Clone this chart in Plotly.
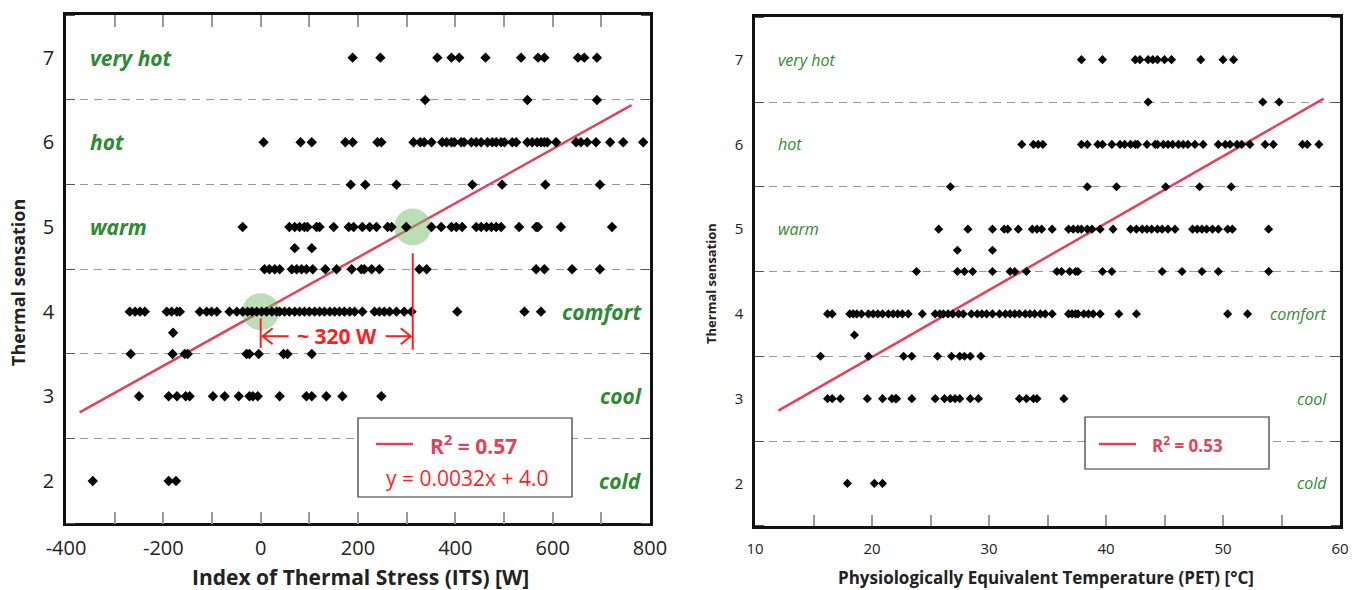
import plotly.graph_objects as go

W, H = 1363, 590
FONT = "Open Sans"
GREEN = "#2f8a34"
FIT_RED = "#e2435c"
LABEL_RED = "#ff1f1f"

# ---------------- Thermal sensation levels (vote scale) ----------------
sensation_labels_left = ["very hot", "hot", "warm"]
sensation_labels_right = ["comfort", "cool", "cold"]
levels_left = [7, 6, 5]
levels_right = [4, 3, 2]

# ---------------- axis tick labels ----------------
its_ticks = [-400, -200, 0, 200, 400, 600, 800]
its_ticktext = ["-400", "-200", "0", "200", "400", "600", "800"]
pet_ticks = [10, 20, 30, 40, 50, 60]
sensation_ticks = [2, 3, 4, 5, 6, 7]

# ---------------- ITS [W] observations, grouped by sensation vote ----------------
its_7 = [189, 246, 363, 392, 408, 462, 535, 570, 583, 652, 665, 691]
its_6_5 = [338, 548, 691]
its_6 = [6, 82, 105, 174, 189, 240, 248, 314, 328, 336, 351, 373, 382, 392, 398, 412, 418,
         433, 443, 453, 466, 476, 484, 494, 501, 517, 525, 548, 558, 568, 576, 583, 589, 607,
         648, 658, 671, 689, 718, 745, 786]
its_5_5 = [185, 215, 279, 435, 496, 585, 697]
its_5 = [-37, 59, 70, 80, 90, 96, 115, 121, 150, 181, 191, 209, 224, 238, 261, 269, 299, 351,
         371, 392, 402, 414, 443, 453, 464, 474, 484, 494, 531, 566, 570, 617, 722]
its_4_75 = [70, 105]
its_4_5 = [8, 18, 29, 39, 64, 74, 84, 94, 107, 133, 156, 187, 207, 213, 228, 244, 326, 341,
           566, 583, 640, 697]
its_4 = [-269, -258, -248, -238, -193, -183, -172, -166, -125, -111, -101, -90, -64, -49, -37,
         -27, -18, -8, 2, 12, 23, 33, 39, 49, 59, 70, 80, 90, 100, 111, 121, 131, 142, 152, 162,
         172, 183, 193, 209, 234, 244, 254, 265, 279, 295, 310, 404, 542, 576]
its_3_75 = [-180]
its_3_5 = [-267, -181, -156, -150, -29, -23, -4, 47, 55, 105]
its_3 = [-250, -189, -172, -154, -146, -98, -74, -45, -23, -16, -6, 39, 94, 105, 135, 168, 248]
its_2 = [-345, -189, -174]

# ---------------- PET [°C] observations, grouped by sensation vote ----------------
pet_7 = [37.9, 39.7, 42.5, 42.9, 43.6, 44.0, 44.4, 45.0, 45.6, 48.1, 50.0, 50.9]
pet_6_5 = [43.6, 53.4, 54.8]
pet_6 = [32.8, 33.8, 34.2, 34.6, 37.9, 38.4, 39.3, 39.7, 40.5, 41.2, 41.6, 42.1, 42.5, 42.7,
         43.5, 44.2, 44.4, 44.9, 45.3, 45.7, 46.2, 46.6, 47.0, 47.6, 48.3, 49.6, 50.2, 50.6,
         51.2, 51.6, 52.3, 53.6, 54.3, 56.8, 57.2, 58.2]
pet_5_5 = [26.7, 38.4, 40.9, 45.1, 48.0, 50.7]
pet_5 = [25.7, 28.2, 30.3, 31.3, 31.6, 32.5, 33.7, 34.1, 34.5, 35.4, 36.8, 37.2, 37.6, 37.9,
         38.4, 38.8, 39.5, 40.6, 42.1, 42.6, 43.1, 43.5, 43.9, 44.4, 44.8, 45.3, 45.9, 47.4,
         47.8, 48.2, 48.6, 49.1, 49.6, 50.4, 50.8, 53.9]
pet_4_75 = [27.3, 30.3]
pet_4_5 = [23.8, 27.3, 27.9, 28.6, 30.3, 31.8, 32.2, 33.2, 35.8, 36.2, 36.9, 37.4, 37.6, 39.7,
           40.5, 44.8, 46.5, 48.2, 49.6, 53.9]
pet_4 = [16.2, 16.6, 18.1, 18.4, 18.7, 19.1, 19.7, 20.1, 20.5, 20.9, 21.4, 21.8, 22.2, 22.6,
         23.1, 24.3, 25.4, 25.8, 26.1, 26.5, 26.9, 27.4, 27.8, 28.5, 29.0, 29.4, 29.8, 30.3,
         30.9, 31.4, 31.8, 32.2, 32.6, 33.1, 33.5, 33.9, 34.4, 34.8, 35.4, 36.8, 37.1, 37.4,
         37.6, 38.1, 38.5, 38.9, 39.5, 41.1, 42.6, 50.4, 52.1]
pet_3_75 = [18.5]
pet_3_5 = [15.6, 19.7, 22.7, 23.4, 25.6, 26.8, 27.5, 27.9, 28.4, 29.3]
pet_3 = [16.2, 16.6, 17.3, 19.6, 20.9, 21.7, 22.0, 22.1, 23.4, 25.4, 26.2, 26.7, 27.1, 27.5,
         28.4, 29.1, 32.6, 33.2, 33.8, 34.1, 36.4]
pet_2 = [17.9, 20.2, 20.9]

# ---------------- Linear fits ----------------
its_slope, its_intercept, its_r2 = 0.0032, 4.0, 0.57
its_fit_x = [-372, 762]
pet_slope, pet_intercept, pet_r2 = 0.079, 1.91, 0.53
pet_fit_x = [12.0, 58.6]

# sensation levels matched to the grouped lists above
level_values = [7, 6.5, 6, 5.5, 5, 4.75, 4.5, 4, 3.75, 3.5, 3, 2]
its_groups = [its_7, its_6_5, its_6, its_5_5, its_5, its_4_75, its_4_5, its_4, its_3_75,
              its_3_5, its_3, its_2]
pet_groups = [pet_7, pet_6_5, pet_6, pet_5_5, pet_5, pet_4_75, pet_4_5, pet_4, pet_3_75,
              pet_3_5, pet_3, pet_2]


def flatten(groups):
    xs, ys = [], []
    for lv, g in zip(level_values, groups):
        xs += g
        ys += [lv] * len(g)
    return xs, ys


its_x, its_y = flatten(its_groups)
pet_x, pet_y = flatten(pet_groups)

fig = go.Figure()

# --- left panel: ITS ---
fig.add_trace(go.Scatter(
    x=its_fit_x, y=[its_slope * v + its_intercept for v in its_fit_x],
    mode="lines", line=dict(color=FIT_RED, width=2.5), xaxis="x", yaxis="y",
    hoverinfo="skip"))
# highlighted points of the fit at sensation 4 and 5
hl_y = [4, 5]
hl_x = [(v - its_intercept) / its_slope for v in hl_y]
fig.add_trace(go.Scatter(
    x=hl_x, y=hl_y, mode="markers",
    marker=dict(size=37, color="rgba(120,190,110,0.5)", line=dict(width=0)),
    xaxis="x", yaxis="y", hoverinfo="skip"))
fig.add_trace(go.Scatter(
    x=its_x, y=its_y, mode="markers",
    marker=dict(symbol="diamond", size=8, color="black", line=dict(width=0)),
    xaxis="x", yaxis="y"))

# --- right panel: PET ---
fig.add_trace(go.Scatter(
    x=pet_fit_x, y=[pet_slope * v + pet_intercept for v in pet_fit_x],
    mode="lines", line=dict(color=FIT_RED, width=2.5), xaxis="x2", yaxis="y2",
    hoverinfo="skip"))
fig.add_trace(go.Scatter(
    x=pet_x, y=pet_y, mode="markers",
    marker=dict(symbol="diamond", size=7, color="black", line=dict(width=0)),
    xaxis="x2", yaxis="y2"))


def px_x(p):
    return p / W


def px_y(p):
    return 1 - p / H


grid = dict(showgrid=True, gridcolor="#9a9a9a", gridwidth=1.1, griddash="8px,6px")

yaxis_common = dict(
    range=[1.5, 7.5], tickmode="array", tickvals=sensation_ticks, ticks="",
    showgrid=False, zeroline=False, showline=True, linecolor="#111", linewidth=2.5,
    mirror="ticks", automargin=False,
    minor=dict(tickmode="linear", tick0=2.5, dtick=1, ticks="inside", ticklen=9,
               tickcolor="#555", tickwidth=1.2, **grid),
)

fig.update_layout(
    width=W, height=H, margin=dict(l=0, r=0, t=0, b=0),
    paper_bgcolor="white", plot_bgcolor="white", showlegend=False,
    font=dict(family=FONT, color="#222"),
    xaxis=dict(
        domain=[px_x(66), px_x(650)], range=[-400, 800], tickmode="array",
        tickvals=its_ticks, ticktext=its_ticktext, ticks="inside", ticklen=12,
        tickcolor="#9a9a9a", tickwidth=1.5,
        minor=dict(tickmode="linear", tick0=-300, dtick=200, ticks="inside", ticklen=12,
                   tickcolor="#9a9a9a", tickwidth=1.5),
        showgrid=False, zeroline=False, showline=True, linecolor="#111", linewidth=2.5,
        mirror="ticks", tickfont=dict(size=20), ticklabelstandoff=5, anchor="y",
        automargin=False),
    yaxis=dict(domain=[px_y(523.3), px_y(15.3)], tickfont=dict(size=20),
               ticklabelstandoff=5, anchor="x", **yaxis_common),
    xaxis2=dict(
        domain=[px_x(755), px_x(1340)], range=[10, 60], tickmode="array",
        tickvals=pet_ticks, ticks="inside", ticklen=11, tickcolor="#9a9a9a", tickwidth=1.5,
        minor=dict(tickmode="linear", tick0=15, dtick=10, ticks="inside", ticklen=11,
                   tickcolor="#9a9a9a", tickwidth=1.5),
        showgrid=False, zeroline=False, showline=True, linecolor="#111", linewidth=2.5,
        mirror=True, tickfont=dict(size=15), ticklabelstandoff=7, anchor="y2",
        automargin=False),
    yaxis2=dict(domain=[px_y(525.75), px_y(17.25)], tickfont=dict(size=15),
                ticklabelstandoff=6, anchor="x2", **yaxis_common),
)

ann = []
# axis titles
ann.append(dict(text="<b>Index of Thermal Stress (ITS) [W]</b>", x=px_x(360), y=px_y(577),
                xref="paper", yref="paper", showarrow=False, font=dict(size=21, color="#222"),
                xanchor="center", yanchor="middle"))
ann.append(dict(text="<b>Thermal sensation</b>", x=px_x(18), y=px_y(283), xref="paper",
                yref="paper", showarrow=False, textangle=-90, font=dict(size=18, color="#222"),
                xanchor="center", yanchor="middle"))
ann.append(dict(text="<b>Physiologically Equivalent Temperature (PET) [°C]</b>",
                x=px_x(1046), y=px_y(577), xref="paper", yref="paper", showarrow=False,
                font=dict(size=17, color="#222"), xanchor="center", yanchor="middle"))
ann.append(dict(text="<b>Thermal sensation</b>", x=px_x(711), y=px_y(284), xref="paper",
                yref="paper", showarrow=False, textangle=-90, font=dict(size=13, color="#222"),
                xanchor="center", yanchor="middle"))

# sensation category names
for name, lv in zip(sensation_labels_left, levels_left):
    ann.append(dict(text=f"<b><i>{name}</i></b>", x=px_x(88), y=lv, xref="paper", yref="y",
                    showarrow=False, xanchor="left", yanchor="middle",
                    font=dict(size=21, color=GREEN)))
    ann.append(dict(text=f"<i>{name}</i>", x=px_x(776), y=lv, xref="paper", yref="y2",
                    showarrow=False, xanchor="left", yanchor="middle",
                    font=dict(size=16, color=GREEN)))
for name, lv in zip(sensation_labels_right, levels_right):
    ann.append(dict(text=f"<b><i>{name}</i></b>", x=px_x(644), y=lv, xref="paper", yref="y",
                    showarrow=False, xanchor="right", yanchor="middle",
                    font=dict(size=21, color=GREEN)))
    ann.append(dict(text=f"<i>{name}</i>", x=px_x(1329), y=lv, xref="paper", yref="y2",
                    showarrow=False, xanchor="right", yanchor="middle",
                    font=dict(size=16, color=GREEN)))

# ITS span between sensation 4 and 5 on the fit
span_y = 3.71
ann.append(dict(text="<b>~ 320 W</b>", x=(hl_x[0] + hl_x[1]) / 2, y=span_y, xref="x",
                yref="y", showarrow=False, font=dict(size=21, color=LABEL_RED),
                xanchor="center", yanchor="middle"))

shapes = [
    dict(type="line", xref="x", yref="y", x0=hl_x[0], x1=hl_x[0], y0=3.92, y1=3.57,
         line=dict(color=LABEL_RED, width=2)),
    dict(type="line", xref="x", yref="y", x0=hl_x[1], x1=hl_x[1], y0=4.69, y1=3.55,
         line=dict(color=LABEL_RED, width=2)),
]

# open chevron arrows pointing at the two vertical markers
x_per_px = 1200 / 584.0
y_per_px = 6.0 / 508.0
arm_dx, arm_dy = 10 * x_per_px, 8 * y_per_px
tip_l = hl_x[0] + 2 * x_per_px
tail_l = hl_x[0] + 28 * x_per_px
tip_r = hl_x[1] - 2 * x_per_px
tail_r = hl_x[1] - 27 * x_per_px
for tip, tail, sgn in [(tip_l, tail_l, 1), (tip_r, tail_r, -1)]:
    shapes.append(dict(type="line", xref="x", yref="y", x0=tail, x1=tip, y0=span_y,
                       y1=span_y, line=dict(color=LABEL_RED, width=2)))
    shapes.append(dict(type="path", xref="x", yref="y",
                       path=(f"M {tip + sgn * arm_dx},{span_y + arm_dy} L {tip},{span_y} "
                             f"L {tip + sgn * arm_dx},{span_y - arm_dy}"),
                       line=dict(color=LABEL_RED, width=2)))

# fit key boxes
shapes.append(dict(type="rect", xref="paper", yref="paper", x0=px_x(358), x1=px_x(572),
                   y0=px_y(497), y1=px_y(418), line=dict(color="#333", width=1.2),
                   fillcolor="white", layer="above"))
shapes.append(dict(type="line", xref="paper", yref="paper", x0=px_x(376), x1=px_x(413),
                   y0=px_y(444), y1=px_y(444), line=dict(color=FIT_RED, width=2.5)))
ann.append(dict(text=f"<b>R<sup>2</sup> = {its_r2:.2f}</b>", x=px_x(428), y=px_y(444),
                xref="paper", yref="paper", showarrow=False, xanchor="left",
                yanchor="middle", font=dict(size=21, color=FIT_RED)))
ann.append(dict(text=f"y = {its_slope:.4f}x + {its_intercept:.1f}", x=px_x(467),
                y=px_y(478), xref="paper", yref="paper", showarrow=False,
                xanchor="center", yanchor="middle", font=dict(size=21, color=LABEL_RED)))

shapes.append(dict(type="rect", xref="paper", yref="paper", x0=px_x(1085), x1=px_x(1269),
                   y0=px_y(469), y1=px_y(417), line=dict(color="#333", width=1.2),
                   fillcolor="white", layer="above"))
shapes.append(dict(type="line", xref="paper", yref="paper", x0=px_x(1099), x1=px_x(1136),
                   y0=px_y(444), y1=px_y(444), line=dict(color=FIT_RED, width=2.5)))
ann.append(dict(text=f"<b>R<sup>2</sup> = {pet_r2:.2f}</b>", x=px_x(1150), y=px_y(444),
                xref="paper", yref="paper", showarrow=False, xanchor="left",
                yanchor="middle", font=dict(size=17, color=FIT_RED)))

fig.update_layout(annotations=ann, shapes=shapes)
fig.write_html("out.html")
